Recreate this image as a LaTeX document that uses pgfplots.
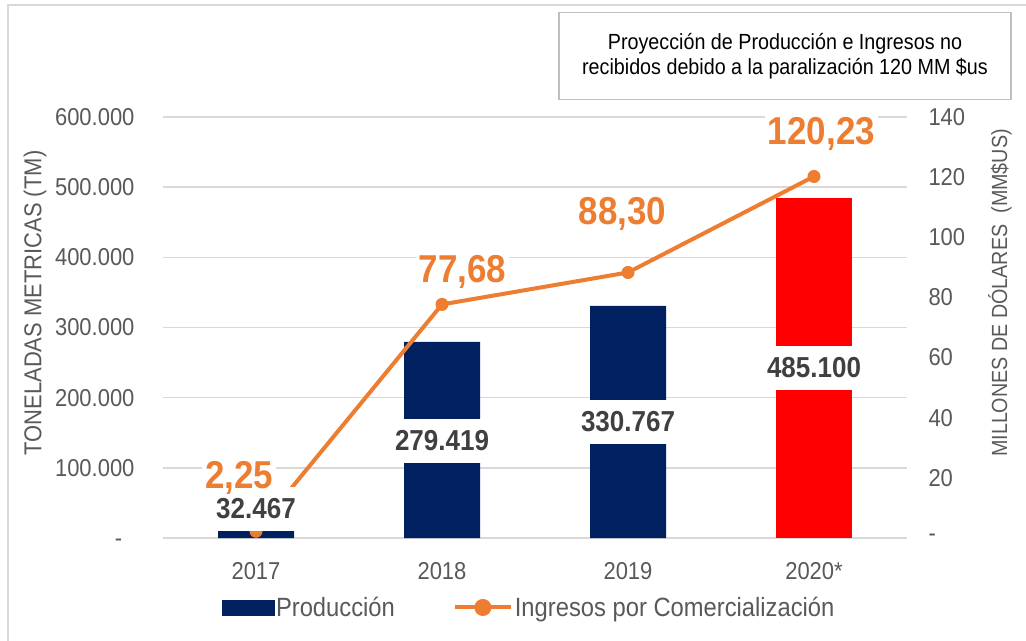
\documentclass[border=0pt]{standalone}
\usepackage{fontspec}
\setmainfont{Liberation Sans}[FakeStretch=0.9]
\usepackage{pgfplots}
\pgfplotsset{compat=1.18}
\definecolor{navy}{HTML}{002060}
\definecolor{orng}{HTML}{ED7D31}
\definecolor{tickc}{HTML}{595959}
\definecolor{gridc}{HTML}{D9D9D9}
\definecolor{lblc}{HTML}{404040}
\definecolor{boxc}{HTML}{BFBFBF}
\begin{document}
\begin{tikzpicture}
\path[use as bounding box] (0,0) rectangle (1026bp,-641bp);
\draw[gridc, line width=1.5bp] (8bp,-641bp) -- (8bp,-5bp) -- (1026bp,-5bp);
\pgfplotsset{base/.style={at={(163bp,-538bp)}, anchor=south west, scale only axis,
  width=744bp, height=421bp, xmin=-0.5, xmax=3.5,
  /pgf/number format/assume math mode=true,
  axis line style={draw=none}, major tick length=0pt, scaled ticks=false,
  ticklabel style={text=tickc, font=\fontsize{24.5}{28}\selectfont}}}

% bars (left axis)
\begin{axis}[base, ymin=0, ymax=600000,
  ytick={0,100000,200000,300000,400000,500000,600000},
  yticklabels={-\phantom{0},100.000,200.000,300.000,400.000,500.000,600.000},
  ymajorgrids, grid style={gridc, line width=1.5bp},
  xtick={0,1,2,3}, xticklabels={2017,2018,2019,2020*},
  yticklabel style={xshift=-25bp}, xticklabel style={yshift=-21bp}]
\addplot[ybar, bar width=76bp, bar shift=0pt, fill=navy, draw=none]
  coordinates {(0,32467) (1,279419) (2,330767)};
\addplot[ybar, bar width=76bp, bar shift=0pt, fill=red, draw=none]
  coordinates {(3,485100)};
\end{axis}

% line (right axis) + legend
\begin{axis}[base, ymin=0, ymax=140, axis y line*=right, axis x line=none,
  ytick={0,20,40,60,80,100,120,140},
  yticklabels={-,20,40,60,80,100,120,140},
  yticklabel style={xshift=18bp},
  legend columns=2,
  legend style={draw=none, fill=none, at={(0.492,-0.165)}, anchor=center,
    font=\fontsize{26.5}{30}\selectfont, text=tickc,
    /tikz/every even column/.style={column sep=56bp}}]
\addlegendimage{legend image code/.code={\fill[navy] (0bp,-7.5bp) rectangle (52bp,7.5bp);}}
\addlegendentry{Producción}
\addplot[orng, line width=4bp, mark=*, mark size=6bp, mark options={solid, fill=orng, line width=1bp},
  legend image code/.code={\draw[orng, line width=4bp] (0bp,0bp) -- (56bp,0bp); \fill[orng] (28bp,0bp) circle (6.5bp);}]
  coordinates {(0,2.25) (1,77.68) (2,88.30) (3,120.23)};
\addlegendentry{Ingresos por Comercialización}
\end{axis}

% bar labels (left scale)
\begin{axis}[base, ymin=0, ymax=600000, hide axis]
\addplot[draw=none, mark=none, nodes near coords, point meta=explicit symbolic,
  nodes near coords style={anchor=center, text=lblc, fill=white, inner xsep=4bp, inner ysep=12bp,
    font=\fontsize{29}{32}\selectfont\bfseries}]
  table[meta=label] {
x y label
0 41330 32.467
1 138242 279.419
2 165383 330.767
3 242550 485.100
};
\end{axis}

% line labels (right scale)
\begin{axis}[base, ymin=0, ymax=140, hide axis]
\addplot[draw=none, mark=none, nodes near coords, point meta=explicit symbolic,
  nodes near coords style={anchor=base, text=orng, fill=white, inner sep=3bp,
    font=\fontsize{39}{44}\selectfont\bfseries}]
  table[meta=label] {
x y label
-0.09 16.6 2,25
1.11 85.1 77,68
1.97 104.1 88,30
3.04 130.9 120,23
};
\end{axis}

\node[draw=boxc, line width=1.2bp, fill=white, minimum width=452bp, minimum height=87bp,
  align=center, font=\fontsize{22}{25}\selectfont] at (785bp,-56bp)
  {Proyección de Producción e Ingresos no\\recibidos debido a la paralización 120 MM \$us};
\node[rotate=90, text=tickc, font=\fontsize{24.5}{28}\selectfont] at (35bp,-303bp)
  {TONELADAS METRICAS (TM)};
\node[rotate=90, text=tickc, font=\fontsize{22}{26}\selectfont] at (1000bp,-293bp)
  {MILLONES DE DÓLARES\ \ (MM\$US)};
\end{tikzpicture}
\end{document}
